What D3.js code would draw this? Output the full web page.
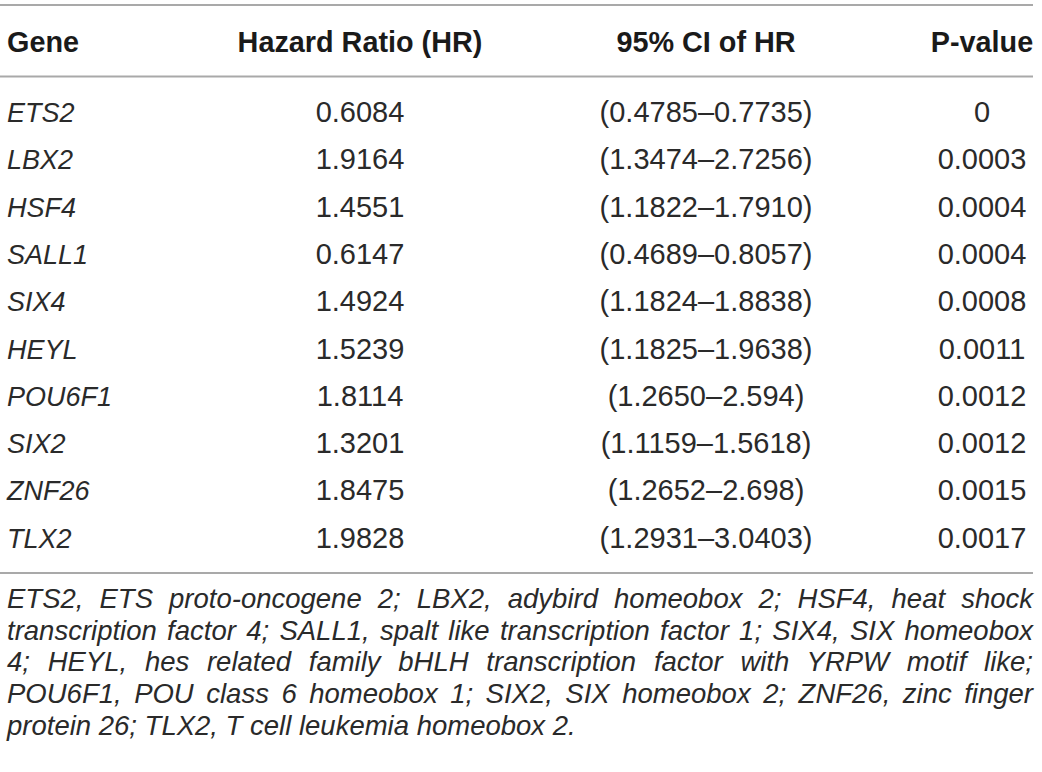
<!DOCTYPE html>
<html>
<head>
<meta charset="utf-8">
<script src="https://cdn.jsdelivr.net/npm/d3@7"></script>
<style>
  html, body { margin: 0; padding: 0; background: #fff; }
  svg { display: block; }
</style>
</head>
<body>
<svg id="chart" width="1042" height="772"></svg>
<script>
// ---- data ----
const headers = ["Gene", "Hazard Ratio (HR)", "95% CI of HR", "P-value"];
const genes = ["ETS2", "LBX2", "HSF4", "SALL1", "SIX4", "HEYL", "POU6F1", "SIX2", "ZNF26", "TLX2"];
const hazardRatios = ["0.6084", "1.9164", "1.4551", "0.6147", "1.4924", "1.5239", "1.8114", "1.3201", "1.8475", "1.9828"];
const ciLower = ["0.4785", "1.3474", "1.1822", "0.4689", "1.1824", "1.1825", "1.2650", "1.1159", "1.2652", "1.2931"];
const ciUpper = ["0.7735", "2.7256", "1.7910", "0.8057", "1.8838", "1.9638", "2.594", "1.5618", "2.698", "3.0403"];
const pValues = ["0", "0.0003", "0.0004", "0.0004", "0.0008", "0.0011", "0.0012", "0.0012", "0.0015", "0.0017"];
const footnoteLines = [
  "ETS2, ETS proto-oncogene 2; LBX2, adybird homeobox 2; HSF4, heat shock",
  "transcription factor 4; SALL1, spalt like transcription factor 1; SIX4, SIX homeobox",
  "4; HEYL, hes related family bHLH transcription factor with YRPW motif like;",
  "POU6F1, POU class 6 homeobox 1; SIX2, SIX homeobox 2; ZNF26, zinc finger",
  "protein 26; TLX2, T cell leukemia homeobox 2."
];

// ---- layout ----
const left = 7, right = 1033;
const fontFamily = "'Liberation Sans', Arial, Helvetica, sans-serif";
const textColor = "#2a2a2a";
const ruleColor = "#a9a9a9";

const svg = d3.select("#chart");

// column scale: ordinal column -> x anchor
const colX = d3.scaleOrdinal().domain([0, 1, 2, 3]).range([left, 360, 706, 982]);
const colAnchor = ["start", "middle", "middle", "middle"];

// row scale
const rowScale = d3.scaleBand().domain(d3.range(genes.length)).range([88.4, 561.4]);

// rules
const rules = [5, 76.5, 573];
svg.selectAll("line.rule").data(rules).join("line")
  .attr("class", "rule")
  .attr("x1", 0).attr("x2", right)
  .attr("y1", d => d).attr("y2", d => d)
  .attr("stroke", ruleColor).attr("stroke-width", 2);

// header
svg.selectAll("text.header").data(headers).join("text")
  .attr("class", "header")
  .attr("x", (d, i) => colX(i))
  .attr("y", 51.7)
  .attr("text-anchor", (d, i) => colAnchor[i])
  .attr("font-family", fontFamily)
  .attr("font-weight", "bold")
  .attr("font-size", 28.8)
  .attr("fill", "#1a1a1a")
  .text(d => d);

// body rows
const rows = genes.map((g, i) => ({
  i,
  cells: [g, hazardRatios[i], "(" + ciLower[i] + "\u2013" + ciUpper[i] + ")", pValues[i]]
}));

const rowG = svg.selectAll("g.row").data(rows).join("g")
  .attr("class", "row")
  .attr("transform", d => `translate(0,${rowScale(d.i) + rowScale.bandwidth() / 2 + 10})`);

rowG.selectAll("text").data(d => d.cells).join("text")
  .attr("x", (d, i) => colX(i))
  .attr("y", 0)
  .attr("text-anchor", (d, i) => colAnchor[i])
  .attr("font-family", fontFamily)
  .attr("font-style", (d, i) => i === 0 ? "italic" : "normal")
  .attr("font-size", (d, i) => i === 0 ? 27 : 29)
  .attr("fill", textColor)
  .text(d => d);

// footnote (justified)
const footY0 = 608, footStep = 31.7;
const foot = svg.selectAll("text.foot").data(footnoteLines).join("text")
  .attr("class", "foot")
  .attr("x", left)
  .attr("y", (d, i) => footY0 + i * footStep)
  .attr("font-family", fontFamily)
  .attr("font-style", "italic")
  .attr("font-size", 27.5)
  .attr("fill", textColor)
  .text(d => d);

foot.each(function (d, i) {
  if (i === footnoteLines.length - 1) return;
  const target = right - left;
  const len = this.getComputedTextLength();
  const spaces = (d.match(/ /g) || []).length;
  if (len <= target) {
    d3.select(this).attr("word-spacing", (target - len) / spaces);
  } else {
    d3.select(this).attr("textLength", target).attr("lengthAdjust", "spacingAndGlyphs");
  }
});
</script>
</body>
</html>
